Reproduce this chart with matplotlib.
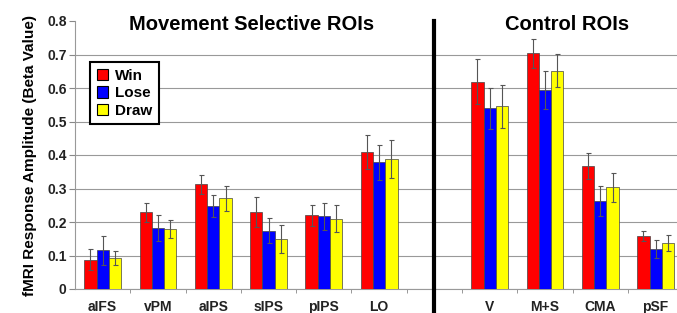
import matplotlib
matplotlib.use("Agg")
import matplotlib.pyplot as plt
import numpy as np

plt.rcParams['font.family'] = ['Liberation Sans', 'DejaVu Sans']

categories = ["aIFS", "vPM", "aIPS", "sIPS", "pIPS", "LO", "", "V", "M+S", "CMA", "pSF"]
win = [0.087, 0.229, 0.312, 0.229, 0.220, 0.410, np.nan, 0.619, 0.703, 0.367, 0.158]
lose = [0.115, 0.182, 0.248, 0.174, 0.217, 0.378, np.nan, 0.539, 0.594, 0.262, 0.120]
draw = [0.093, 0.179, 0.271, 0.149, 0.210, 0.388, np.nan, 0.546, 0.652, 0.303, 0.137]
win_err = [0.031, 0.029, 0.027, 0.045, 0.031, 0.051, np.nan, 0.067, 0.043, 0.040, 0.016]
lose_err = [0.044, 0.038, 0.033, 0.038, 0.040, 0.052, np.nan, 0.060, 0.058, 0.045, 0.027]
draw_err = [0.020, 0.026, 0.037, 0.041, 0.041, 0.057, np.nan, 0.064, 0.048, 0.043, 0.025]
series_names = ["Win", "Lose", "Draw"]
colors = ["#FF0000", "#0000FF", "#FFFF00"]
yticks = [0, 0.1, 0.2, 0.3, 0.4, 0.5, 0.6, 0.7, 0.8]
ytick_labels = ["0", "0.1", "0.2", "0.3", "0.4", "0.5", "0.6", "0.7", "0.8"]

fig = plt.figure(figsize=(6.77, 3.13), dpi=100)
ax = fig.add_axes([75/677, 24/313, (677-75)/677, 268/313])

x = np.arange(len(categories)) + 0.5
w = 0.222
for k, (vals, errs) in enumerate([(win, win_err), (lose, lose_err), (draw, draw_err)]):
    ax.bar(x + (k - 1) * w, vals, w, color=colors[k], edgecolor="#444444",
           linewidth=0.5, label=series_names[k], zorder=3,
           yerr=errs, error_kw=dict(ecolor="#555555", elinewidth=0.8, capsize=1.8, capthick=0.8, zorder=4))

ax.set_xlim(0, (677-75)/55.3)
ax.set_ylim(0, 0.8)
ax.set_yticks(yticks)
ax.set_yticklabels(ytick_labels, fontsize=10, fontweight="bold", color="#222222")
ax.set_xticks(x)
ax.set_xticklabels(categories, fontsize=10, fontweight="bold", color="#222222")
ax.set_xticks(np.arange(1, len(categories)), minor=True)
ax.tick_params(axis="x", which="major", length=0, pad=8)
ax.tick_params(axis="x", which="minor", length=3, color="#888888", direction="out")
ax.tick_params(axis="y", length=4, color="#888888", pad=2)

ax.yaxis.grid(True, color="#999999", linewidth=0.8, zorder=0)
ax.set_axisbelow(True)
gl = ax.get_ygridlines()
gl[-1].set_visible(False)

for s in ["top", "right"]:
    ax.spines[s].set_visible(False)
ax.spines["left"].set_color("#999999")
ax.spines["bottom"].set_color("#999999")

# separator line
ax.plot([6.5, 6.5], [-0.1, 0.8], color="black", linewidth=3, clip_on=False, zorder=5)

ax.set_ylabel("fMRI Response Amplitude (Beta Value)", fontsize=11, fontweight="bold", labelpad=7)

ax.text(3.2, 0.79, "Movement Selective ROIs", fontsize=14.5, fontweight="bold", ha="center", va="center")
ax.text(8.9, 0.79, "Control ROIs", fontsize=14.5, fontweight="bold", ha="center", va="center")

leg = ax.legend(loc="upper left", bbox_to_anchor=(15/602, (289-62)/268),
                prop=dict(weight="bold", size=11), frameon=True, fancybox=False,
                handlelength=0.75, handleheight=0.75, handletextpad=0.45, borderpad=0.45,
                labelspacing=0.22, borderaxespad=0)
leg.get_frame().set_edgecolor("black")
leg.get_frame().set_linewidth(1.5)
leg.get_frame().set_alpha(1)
for h in leg.legend_handles:
    h.set_edgecolor("black")
    h.set_linewidth(0.8)

fig.savefig("out.png", dpi=100)
